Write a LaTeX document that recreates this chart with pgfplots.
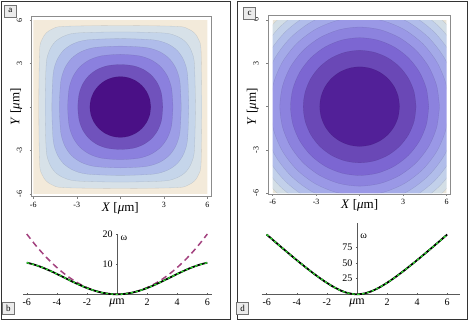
\documentclass[border=0pt]{standalone}
\usepackage{fontspec}
\setmainfont{Liberation Serif}
\usepackage{pgfplots}
\pgfplotsset{compat=1.18}

% panel a bands, outside to centre
\definecolor{aBG}{HTML}{F3EADA}
\definecolor{a7}{HTML}{D7E1E8}
\definecolor{a6}{HTML}{C5D5EA}
\definecolor{a5}{HTML}{AFBCEA}
\definecolor{a4}{HTML}{9D9EE6}
\definecolor{a3}{HTML}{8B80DE}
\definecolor{a2}{HTML}{7052BC}
\definecolor{a1}{HTML}{4A1086}
% panel c bands
\definecolor{cBG}{HTML}{E8E4D8}
\definecolor{c9}{HTML}{D3DEE6}
\definecolor{c8}{HTML}{C2D0EA}
\definecolor{c7}{HTML}{B1BDEA}
\definecolor{c6}{HTML}{A4AAE8}
\definecolor{c5}{HTML}{9A98E6}
\definecolor{c4}{HTML}{8C82DE}
\definecolor{c3}{HTML}{7C66D2}
\definecolor{c2}{HTML}{6A48B6}
\definecolor{c1}{HTML}{522098}
\definecolor{dashpink}{HTML}{A3427F}
\definecolor{lgreen}{HTML}{30DD30}

% one closed contour level: colour, then the points of one quadrant
% (r, r c15, r c30, r c45, r c60, r c75), mirrored into the other three
\newcommand{\blob}[7]{%
  \addplot[fill=#1, draw=black, draw opacity=0.12, line width=0.3pt, smooth]
  coordinates {(#2,0) (#3,#7) (#4,#6) (#5,#5) (#6,#4) (#7,#3) (0,#2)
    (-#7,#3) (-#6,#4) (-#5,#5) (-#4,#6) (-#3,#7) (-#2,0)
    (-#3,-#7) (-#4,-#6) (-#5,-#5) (-#6,-#4) (-#7,-#3) (0,-#2)
    (#7,-#3) (#6,-#4) (#5,-#5) (#4,-#6) (#3,-#7) (#2,0)};}

\pgfplotsset{
  mapstyle/.style={
    scale only axis, axis on top,
    xtick={-6,-3,0,3,6}, ytick={-6,-3,0,3,6},
    xtick pos=left, ytick pos=left,
    tick align=outside, major tick length=2pt,
    tick style={black!50, line width=0.5pt},
    axis line style={black!45, line width=0.8pt},
    tick label style={font=\fontsize{8}{9}\selectfont},
    xticklabels={-6,-3,{\fontsize{13}{13}\selectfont\textit{X} [\textit{μ}m]},3,6},
    yticklabels={-6,-3,{\fontsize{13}{13}\selectfont\textit{Y} [\textit{μ}m]},3,6},
    yticklabel style={rotate=90, anchor=south},
    yticklabel shift=4pt,
  },
  curvestyle/.style={
    scale only axis, axis lines=middle,
    axis line style={-, black!65, line width=0.8pt},
    clip=false, hide obscured x ticks=false,
    major tick length=2pt, tick style={black!65, line width=0.5pt},
    tick label style={font=\fontsize{10}{12}\selectfont},
    xtick={-6,-4,-2,0,2,4,6},
    xticklabels={-6,-4,-2,{\fontsize{12}{12}\selectfont\textit{μ}m},2,4,6},
    ylabel={ω},
  },
}
\tikzset{boxlab/.style={draw=black!55, fill=black!8, minimum width=12pt,
    minimum height=12pt, inner sep=0pt, font=\fontsize{9}{9}\selectfont}}

\begin{document}
\begin{tikzpicture}
\useasboundingbox (0pt,0pt) rectangle (469pt,320pt);
\draw[black!80, line width=0.8pt] (1pt,1pt) rectangle (230pt,319pt);
\draw[black!80, line width=0.8pt] (237pt,1pt) rectangle (467pt,319pt);

% ---- a ----
\begin{axis}[mapstyle, at={(31.7pt,123.3pt)}, anchor=south west,
  width=180pt, height=180.7pt,
  xmin=-6.11, xmax=6.30, ymin=-6.19, ymax=6.28]
  \addplot[fill=aBG, draw=none] coordinates {(-6,-6) (6,-6) (6,6) (-6,6) (-6,-6)};
  \blob{a7}{5.62}{5.567}{5.403}{5.111}{4.648}{3.881}
  \blob{a6}{5.18}{5.107}{4.885}{4.497}{3.904}{2.984}
  \blob{a5}{4.72}{4.632}{4.367}{3.914}{3.245}{2.273}
  \blob{a4}{4.20}{4.107}{3.828}{3.359}{2.686}{1.756}
  \blob{a3}{3.63}{3.534}{3.250}{2.781}{2.130}{1.283}
  \blob{a2}{2.93}{2.843}{2.585}{2.168}{1.604}{0.905}
  \blob{a1}{2.10}{2.028}{1.819}{1.485}{1.050}{0.544}
\end{axis}

% ---- c ----
\begin{axis}[mapstyle, at={(268.3pt,126pt)}, anchor=south west,
  width=181.7pt, height=179pt,
  xmin=-6.3, xmax=6.23, ymin=-6.05, ymax=6.34]
  \addplot[fill=cBG, draw=none] coordinates {(-6,-6) (6,-6) (6,6) (-6,6) (-6,-6)};
  \blob{c9}{8.259}{7.978}{7.153}{5.840}{4.130}{2.138}
  \blob{c8}{7.787}{7.522}{6.744}{5.506}{3.894}{2.015}
  \blob{c7}{7.284}{7.036}{6.308}{5.151}{3.642}{1.885}
  \blob{c6}{6.743}{6.513}{5.840}{4.768}{3.372}{1.745}
  \blob{c5}{6.156}{5.946}{5.331}{4.353}{3.078}{1.593}
  \blob{c4}{5.506}{5.318}{4.768}{3.893}{2.753}{1.425}
  \blob{c3}{4.768}{4.606}{4.129}{3.371}{2.384}{1.234}
  \blob{c2}{3.893}{3.760}{3.371}{2.753}{1.947}{1.008}
  \blob{c1}{2.753}{2.659}{2.384}{1.947}{1.377}{0.713}
  % white margin between the map and the frame
  \addplot[fill=white, draw=none] coordinates {(-7,-7) (7,-7) (7,7) (-7,7) (-7,-7)
    (-6,-6) (-6,6) (6,6) (6,-6) (-6,-6) (-7,-7)};
\end{axis}

% ---- b ----
\begin{axis}[curvestyle, at={(23.3pt,25.7pt)}, anchor=south west,
  width=188.4pt, height=60.3pt,
  xmin=-6.23, xmax=6.29, ymin=0, ymax=20,
  ytick={10,20}, yticklabels={10,20},
  ylabel style={at={(axis description cs:0.4976,0.93)}, anchor=west,
    font=\fontsize{10}{10}\selectfont}]
  \addplot[dashpink, line width=1.5pt, dash pattern=on 6pt off 4pt, smooth] coordinates {
    (-6,20) (-5.5,16.806) (-5,13.889) (-4.5,11.25) (-4,8.889) (-3.5,6.806) (-3,5)
    (-2.5,3.472) (-2,2.222) (-1.5,1.25) (-1,0.556) (-0.5,0.139) (0,0)
    (0.5,0.139) (1,0.556) (1.5,1.25) (2,2.222) (2.5,3.472) (3,5) (3.5,6.806)
    (4,8.889) (4.5,11.25) (5,13.889) (5.5,16.806) (6,20)};
  \addplot[black, line width=1.8pt, smooth] coordinates {
    (-6,10.493) (-5.5,9.836) (-5,8.962) (-4.5,7.915) (-4,6.748) (-3.5,5.520) (-3,4.292)
    (-2.5,3.125) (-2,2.078) (-1.5,1.204) (-1,0.547) (-0.5,0.138) (0,0)
    (0.5,0.138) (1,0.547) (1.5,1.204) (2,2.078) (2.5,3.125) (3,4.292) (3.5,5.520)
    (4,6.748) (4.5,7.915) (5,8.962) (5.5,9.836) (6,10.493)};
  \addplot[lgreen, line width=1.3pt, dash pattern=on 2.5pt off 2.5pt, smooth] coordinates {
    (-6,10.493) (-5.5,9.836) (-5,8.962) (-4.5,7.915) (-4,6.748) (-3.5,5.520) (-3,4.292)
    (-2.5,3.125) (-2,2.078) (-1.5,1.204) (-1,0.547) (-0.5,0.138) (0,0)
    (0.5,0.138) (1,0.547) (1.5,1.204) (2,2.078) (2.5,3.125) (3,4.292) (3.5,5.520)
    (4,6.748) (4.5,7.915) (5,8.962) (5.5,9.836) (6,10.493)};
\end{axis}

% ---- d ----
\begin{axis}[curvestyle, at={(261.7pt,25.7pt)}, anchor=south west,
  width=198.3pt, height=71pt,
  xmin=-6.33, xmax=6.85, ymin=0, ymax=113,
  ytick={25,50,75}, yticklabels={25,50,75},
  ylabel style={at={(axis description cs:0.480,0.814)}, anchor=west,
    font=\fontsize{10}{10}\selectfont}]
  \addplot[dashpink, line width=1.5pt, dash pattern=on 6pt off 4pt, smooth] coordinates {
    (-6,95.14) (-5.5,84.75) (-5,74.47) (-4.5,64.34) (-4,54.39) (-3.5,44.69) (-3,35.32)
    (-2.5,26.43) (-2,18.23) (-1.5,11.0) (-1,5.19) (-0.5,1.35) (0,0)
    (0.5,1.35) (1,5.19) (1.5,11.0) (2,18.23) (2.5,26.43) (3,35.32) (3.5,44.69)
    (4,54.39) (4.5,64.34) (5,74.47) (5.5,84.75) (6,95.14)};
  \addplot[black, line width=1.8pt, smooth] coordinates {
    (-6,95.14) (-5.5,84.75) (-5,74.47) (-4.5,64.34) (-4,54.39) (-3.5,44.69) (-3,35.32)
    (-2.5,26.43) (-2,18.23) (-1.5,11.0) (-1,5.19) (-0.5,1.35) (0,0)
    (0.5,1.35) (1,5.19) (1.5,11.0) (2,18.23) (2.5,26.43) (3,35.32) (3.5,44.69)
    (4,54.39) (4.5,64.34) (5,74.47) (5.5,84.75) (6,95.14)};
  \addplot[lgreen, line width=1.3pt, dash pattern=on 2.5pt off 2.5pt, smooth] coordinates {
    (-6,95.14) (-5.5,84.75) (-5,74.47) (-4.5,64.34) (-4,54.39) (-3.5,44.69) (-3,35.32)
    (-2.5,26.43) (-2,18.23) (-1.5,11.0) (-1,5.19) (-0.5,1.35) (0,0)
    (0.5,1.35) (1,5.19) (1.5,11.0) (2,18.23) (2.5,26.43) (3,35.32) (3.5,44.69)
    (4,54.39) (4.5,64.34) (5,74.47) (5.5,84.75) (6,95.14)};
\end{axis}

\node[boxlab] at (10.3pt,309.2pt) {a};
\node[boxlab] at (249.5pt,306.7pt) {c};
\node[boxlab] at (8.3pt,11.3pt) {b};
\node[boxlab] at (242.5pt,11.3pt) {d};
\end{tikzpicture}
\end{document}
